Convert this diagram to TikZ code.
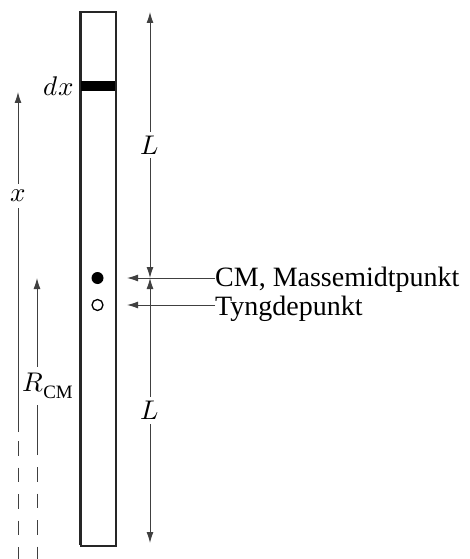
\documentclass[tikz,border=0pt]{standalone}
\usepackage{fontspec}
\setmainfont{Liberation Serif}
\usepackage{unicode-math}
\setmathfont{Latin Modern Math}
\usetikzlibrary{arrows.meta}
\begin{document}
\begin{tikzpicture}[x=1pt,y=-1pt,
  arr/.style={draw=black!75,line width=0.9pt,-{Latex[length=11pt,width=7pt]}},
  darr/.style={draw=black!75,line width=0.9pt,{Latex[length=11pt,width=7pt]}-{Latex[length=11pt,width=7pt]}},
  mlab/.style={font=\fontsize{27}{31}\selectfont,inner sep=1pt},
  tlab/.style={font=\fontsize{28}{32}\selectfont,inner sep=0pt},
  rod/.style={draw=black!85,line width=1.6pt},
  dsh/.style={draw=black!75,line width=0.9pt,dash pattern=on 14.5pt off 12pt}]
\useasboundingbox (0,0) rectangle (470,559);
% rod
\node[rod,minimum width=35pt,minimum height=534pt,inner sep=0pt,anchor=north west] (rodbox) at (80,11) {};
\fill[black] (81,81) rectangle (115,91);
\node[mlab,anchor=east] (dx) at (75,86) {$dx$};
% points
\node[circle,fill=black,minimum size=12pt,inner sep=0pt] (cm) at (97.5,278) {};
\node[circle,draw=black,line width=1.3pt,minimum size=11pt,inner sep=0pt] (tp) at (97.5,305) {};
% L arrows
\coordinate (ltop) at (150,12);
\coordinate (lmid) at (150,278);
\coordinate (lbot) at (150,543);
\draw[darr] (lmid) -- node[mlab,fill=white,inner ysep=4pt] (L1) {$L$} (ltop);
\draw[darr] (lmid) -- node[mlab,fill=white,inner ysep=4pt] (L2) {$L$} (lbot);
% labels and pointers
\node[tlab,anchor=base west] (cmt) at (215,286) {CM, Massemidtpunkt};
\node[tlab,anchor=base west] (tpt) at (215,315) {Tyngdepunkt};
\coordinate (cmtip) at (127,278);
\coordinate (tptip) at (127,305);
\draw[arr] (cmt.west |- cmtip) -- (cmtip);
\draw[arr] (tpt.west |- tptip) -- (tptip);
% x arrow
\coordinate (xbot) at (18,432);
\coordinate (xtop) at (18,92);
\draw[arr] (xbot) -- node[pos=0.695,mlab,fill=white,inner ysep=6pt] (xl) {$x$} (xtop);
\coordinate (xd1) at (18,441);
\coordinate (xd2) at (18,559);
\draw[dsh] (xd1) -- (xd2);
% R_CM arrow
\coordinate (rbot) at (37,455);
\coordinate (rtop) at (37,278);
\coordinate (rlabpos) at (48,386);
\draw[arr] (rbot) -- (rtop);
\node[mlab,fill=white,inner xsep=0pt,inner ysep=6pt] (rl) at (rlabpos) {$R_{\mathrm{CM}}$};
\coordinate (rd1) at (37,467);
\coordinate (rd2) at (37,559);
\draw[dsh] (rd1) -- (rd2);
\draw[rod] (80,11) -- (80,545);
\end{tikzpicture}
\end{document}
